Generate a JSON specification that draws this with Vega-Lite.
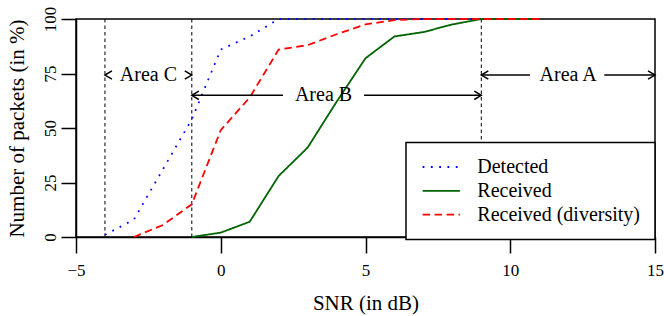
{
  "$schema": "https://vega.github.io/schema/vega-lite/v6.json",
  "width": 579,
  "height": 218,
  "autosize": {"type": "none"},
  "padding": {"left": 76, "top": 19, "right": 9, "bottom": 79},
  "background": "white",
  "config": {
    "view": {"stroke": "black", "strokeWidth": 1.5},
    "font": "Liberation Serif",
    "axis": {
      "grid": false,
      "domainColor": "black",
      "domainWidth": 1.5,
      "tickColor": "black",
      "tickWidth": 1.5,
      "labelColor": "black",
      "titleColor": "black",
      "labelFont": "Liberation Serif",
      "titleFont": "Liberation Serif",
      "labelFontSize": 17,
      "titleFontSize": 21,
      "titleFontWeight": "normal"
    },
    "legend": {
      "orient": "none",
      "legendX": 330,
      "legendY": 123.5,
      "strokeColor": "black",
      "strokeWidth": 1.5,
      "fillColor": "white",
      "padding": 14,
      "symbolOffset": 10.8,
      "symbolType": "M -2 0 L 2 0",
      "symbolSize": 350,
      "symbolStrokeWidth": 1.8,
      "labelFont": "Liberation Serif",
      "labelFontSize": 20,
      "labelColor": "black",
      "labelOffset": 25.5,
      "rowPadding": 2.8,
      "labelLimit": 0
    }
  },
  "datasets": {
    "curves": [
      {"snr": -4, "pct": 1, "series": "Detected"},
      {"snr": -3, "pct": 8, "series": "Detected"},
      {"snr": -2, "pct": 31, "series": "Detected"},
      {"snr": -1, "pct": 54, "series": "Detected"},
      {"snr": 0, "pct": 86, "series": "Detected"},
      {"snr": 1, "pct": 92, "series": "Detected"},
      {"snr": 2, "pct": 100, "series": "Detected"},
      {"snr": 3, "pct": 100, "series": "Detected"},
      {"snr": 4, "pct": 100, "series": "Detected"},
      {"snr": 5, "pct": 100, "series": "Detected"},
      {"snr": 6, "pct": 100, "series": "Detected"},
      {"snr": 7, "pct": 100, "series": "Detected"},
      {"snr": 8, "pct": 100, "series": "Detected"},
      {"snr": 9, "pct": 100, "series": "Detected"},
      {"snr": 10, "pct": 100, "series": "Detected"},
      {"snr": 11, "pct": 100, "series": "Detected"},
      {"snr": -1, "pct": 0, "series": "Received"},
      {"snr": 0, "pct": 2, "series": "Received"},
      {"snr": 1, "pct": 7, "series": "Received"},
      {"snr": 2, "pct": 28, "series": "Received"},
      {"snr": 3, "pct": 41, "series": "Received"},
      {"snr": 4, "pct": 62, "series": "Received"},
      {"snr": 5, "pct": 82, "series": "Received"},
      {"snr": 6, "pct": 92, "series": "Received"},
      {"snr": 7, "pct": 94, "series": "Received"},
      {"snr": 8, "pct": 97.5, "series": "Received"},
      {"snr": 9, "pct": 100, "series": "Received"},
      {"snr": 10, "pct": 100, "series": "Received"},
      {"snr": 11, "pct": 100, "series": "Received"},
      {"snr": -3, "pct": 0, "series": "Received (diversity)"},
      {"snr": -2, "pct": 5.5, "series": "Received (diversity)"},
      {"snr": -1, "pct": 15, "series": "Received (diversity)"},
      {"snr": 0, "pct": 49, "series": "Received (diversity)"},
      {"snr": 1, "pct": 64, "series": "Received (diversity)"},
      {"snr": 2, "pct": 86, "series": "Received (diversity)"},
      {"snr": 3, "pct": 88, "series": "Received (diversity)"},
      {"snr": 4, "pct": 93, "series": "Received (diversity)"},
      {"snr": 5, "pct": 97.5, "series": "Received (diversity)"},
      {"snr": 6, "pct": 99.5, "series": "Received (diversity)"},
      {"snr": 7, "pct": 100, "series": "Received (diversity)"},
      {"snr": 8, "pct": 100, "series": "Received (diversity)"},
      {"snr": 9, "pct": 100, "series": "Received (diversity)"},
      {"snr": 10, "pct": 100, "series": "Received (diversity)"},
      {"snr": 11, "pct": 100, "series": "Received (diversity)"}
    ],
    "vlines": [{"snr": -4}, {"snr": -1}, {"snr": 9}],
    "segs": [
      {"snr": -1, "snr2": 2.15, "pct": 65},
      {"snr": 4.95, "snr2": 9, "pct": 65},
      {"snr": 9, "snr2": 10.68, "pct": 74.3},
      {"snr": 13.25, "snr2": 15, "pct": 74.3}
    ],
    "labels": [
      {"snr": -2.5, "pct": 74.3, "label": "Area C"},
      {"snr": 3.55, "pct": 65, "label": "Area B"},
      {"snr": 12.0, "pct": 74.3, "label": "Area A"}
    ],
    "heads": [
      {"snr": -4, "pct": 74.3, "dir": "left"},
      {"snr": -1, "pct": 74.3, "dir": "right"},
      {"snr": -1, "pct": 65, "dir": "left"},
      {"snr": 9, "pct": 65, "dir": "right"},
      {"snr": 9, "pct": 74.3, "dir": "left"},
      {"snr": 15, "pct": 74.3, "dir": "right"}
    ]
  },
  "layer": [
    {
      "data": {"name": "vlines"},
      "mark": {"type": "rule", "color": "black", "strokeWidth": 1, "strokeDash": [3.5, 3]},
      "encoding": {
        "x": {"field": "snr", "type": "quantitative", "scale": {"domain": [-5, 15], "nice": false}, "title": "SNR (in dB)",
          "axis": {"values": [-5, 0, 5, 10, 15], "format": "d", "tickSize": 16, "labelPadding": 9, "labelFlush": false, "titleY": 72, "titleBaseline": "alphabetic"}},
        "y": {"datum": 0, "type": "quantitative", "scale": {"domain": [0, 100], "nice": false}, "title": "Number of packets (in %)",
          "axis": {"values": [0, 25, 50, 75, 100], "tickSize": 15, "labelAngle": -90, "labelAlign": "center", "labelBaseline": "bottom", "labelPadding": 2, "titleX": -59, "titleY": 109, "titleAngle": -90, "titleBaseline": "middle", "titleAlign": "center"}},
        "y2": {"datum": 100}
      }
    },
    {
      "data": {"name": "curves"},
      "mark": {"type": "line", "strokeWidth": 1.8},
      "encoding": {
        "x": {"field": "snr", "type": "quantitative", "title": "SNR (in dB)"},
        "y": {"field": "pct", "type": "quantitative", "title": "Number of packets (in %)"},
        "color": {"field": "series", "type": "nominal", "title": null,
          "scale": {"domain": ["Detected", "Received", "Received (diversity)"], "range": ["#0000FF", "#006400", "#FF0000"]}},
        "strokeDash": {"field": "series", "type": "nominal", "title": null,
          "scale": {"domain": ["Detected", "Received", "Received (diversity)"], "range": [[1.8, 6.5], [1, 0], [7.5, 4.5]]}}
      }
    },
    {
      "data": {"name": "segs"},
      "mark": {"type": "rule", "color": "black", "strokeWidth": 1.5},
      "encoding": {
        "x": {"field": "snr", "type": "quantitative", "title": "SNR (in dB)"},
        "x2": {"field": "snr2"},
        "y": {"field": "pct", "type": "quantitative", "title": "Number of packets (in %)"}
      }
    },
    {
      "data": {"name": "heads"},
      "mark": {"type": "point", "filled": false, "color": "black", "strokeWidth": 1.5, "size": 196, "opacity": 1},
      "encoding": {
        "x": {"field": "snr", "type": "quantitative", "title": "SNR (in dB)"},
        "y": {"field": "pct", "type": "quantitative", "title": "Number of packets (in %)"},
        "shape": {"field": "dir", "type": "nominal", "legend": null,
          "scale": {"domain": ["left", "right"], "range": ["M 1 -0.6 L 0 0 L 1 0.6", "M -1 -0.6 L 0 0 L -1 0.6"]}}
      }
    },
    {
      "data": {"name": "labels"},
      "mark": {"type": "text", "font": "Liberation Serif", "fontSize": 20, "color": "black", "align": "center", "baseline": "middle"},
      "encoding": {
        "x": {"field": "snr", "type": "quantitative", "title": "SNR (in dB)"},
        "y": {"field": "pct", "type": "quantitative", "title": "Number of packets (in %)"},
        "text": {"field": "label"}
      }
    }
  ]
}
